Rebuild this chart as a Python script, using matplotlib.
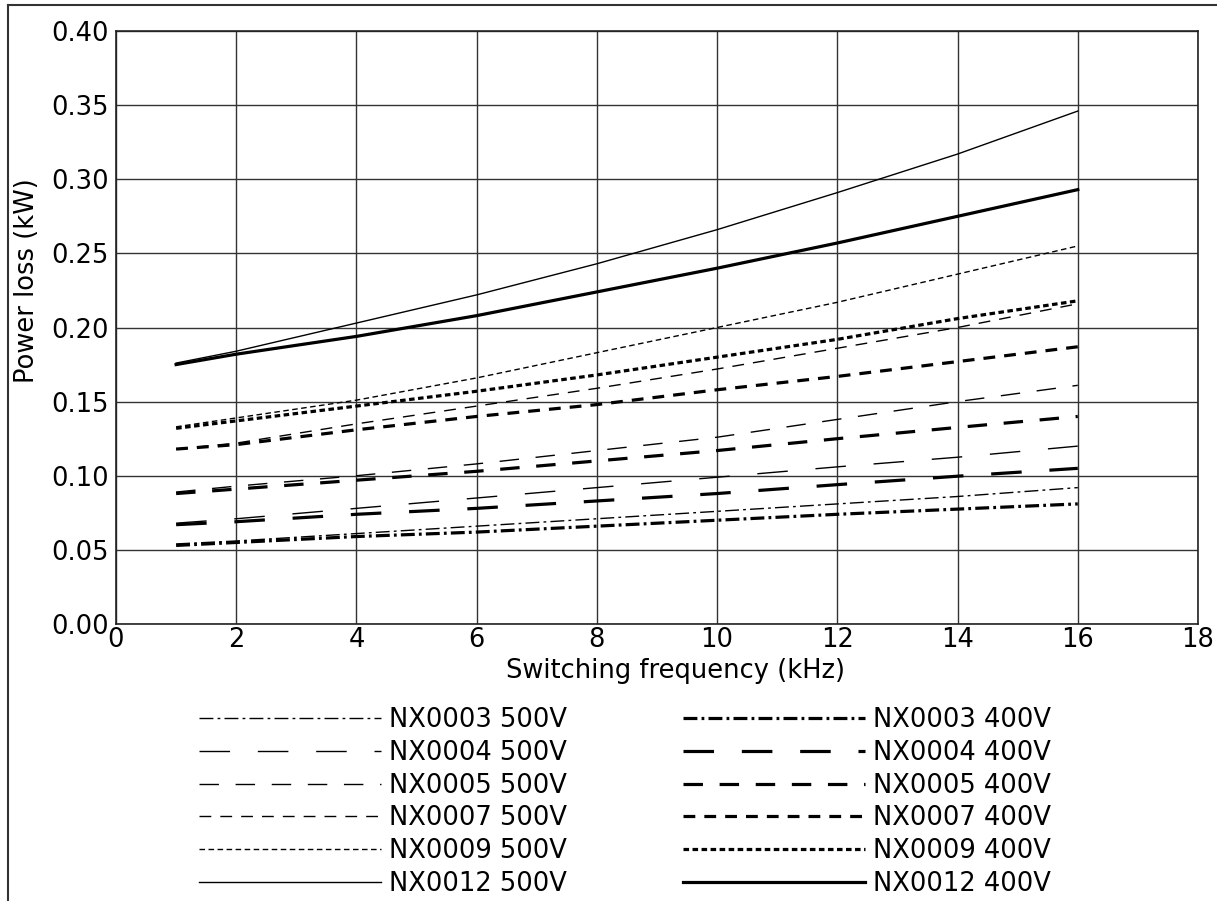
import matplotlib
matplotlib.use("Agg")
import matplotlib.pyplot as plt
from matplotlib.lines import Line2D

plt.rcParams['font.family'] = ['DejaVu Sans']
plt.rcParams['lines.scale_dashes'] = False

freq = [1, 2, 4, 6, 8, 10, 12, 14, 16]

nx0003_500 = [0.054, 0.056, 0.061, 0.066, 0.071, 0.076, 0.081, 0.086, 0.092]
nx0004_500 = [0.068, 0.071, 0.078, 0.085, 0.092, 0.099, 0.106, 0.1125, 0.120]
nx0005_500 = [0.089, 0.093, 0.100, 0.108, 0.117, 0.126, 0.138, 0.150, 0.161]
nx0007_500 = [0.118, 0.122, 0.135, 0.147, 0.159, 0.172, 0.186, 0.200, 0.216]
nx0009_500 = [0.133, 0.139, 0.151, 0.166, 0.183, 0.200, 0.217, 0.236, 0.255]
nx0012_500 = [0.176, 0.184, 0.203, 0.222, 0.243, 0.266, 0.291, 0.317, 0.346]

nx0003_400 = [0.053, 0.055, 0.059, 0.062, 0.066, 0.070, 0.074, 0.0775, 0.081]
nx0004_400 = [0.067, 0.069, 0.074, 0.078, 0.083, 0.088, 0.094, 0.0997, 0.105]
nx0005_400 = [0.088, 0.091, 0.097, 0.103, 0.110, 0.117, 0.125, 0.1326, 0.140]
nx0007_400 = [0.118, 0.121, 0.131, 0.140, 0.148, 0.158, 0.167, 0.177, 0.187]
nx0009_400 = [0.132, 0.137, 0.147, 0.157, 0.168, 0.180, 0.192, 0.206, 0.218]
nx0012_400 = [0.175, 0.182, 0.194, 0.208, 0.224, 0.240, 0.257, 0.275, 0.293]

labels_500 = ["NX0003 500V", "NX0004 500V", "NX0005 500V",
              "NX0007 500V", "NX0009 500V", "NX0012 500V"]
labels_400 = ["NX0003 400V", "NX0004 400V", "NX0005 400V",
              "NX0007 400V", "NX0009 400V", "NX0012 400V"]

series_500 = [nx0003_500, nx0004_500, nx0005_500, nx0007_500, nx0009_500, nx0012_500]
series_400 = [nx0003_400, nx0004_400, nx0005_400, nx0007_400, nx0009_400, nx0012_400]

# dash patterns in points (one per model)
styles = [(0, (10, 3, 2, 3)),
          (0, (22, 20)),
          (0, (14, 12)),
          (0, (8.5, 6.5)),
          (0, (4, 2.5)),
          '-']

FS = 18.5

fig = plt.figure(figsize=(12.17, 9.01), dpi=100)
ax = fig.add_axes([116/1217, 1 - 624/901, (1198-116)/1217, (624-31)/901])

handles = []
for ys, lab, ls in zip(series_500, labels_500, styles):
    h, = ax.plot(freq, ys, color='black', lw=1.0, linestyle=ls, label=lab)
    handles.append(h)
for ys, lab, ls in zip(series_400, labels_400, styles):
    h, = ax.plot(freq, ys, color='black', lw=2.3, linestyle=ls, label=lab)
    handles.append(h)

ax.set_xlim(0, 18)
ax.set_ylim(0, 0.40)
ax.set_xticks(range(0, 19, 2))
ax.set_yticks([i * 0.05 for i in range(9)])
ax.set_yticklabels(["%.2f" % (i * 0.05) for i in range(9)])
ax.grid(True, color='#333333', lw=1.0)
ax.tick_params(axis='both', length=0, labelsize=FS)
ax.tick_params(axis='y', pad=5)
ax.tick_params(axis='x', pad=2.5)
for sp in ax.spines.values():
    sp.set_color('#222222')
    sp.set_linewidth(1.2)

ax.set_xlabel("Switching frequency (kHz)", fontsize=FS)
ax.set_ylabel("Power loss (kW)", fontsize=FS)
ax.xaxis.set_label_coords((675-116)/1082, (624-671)/593)
ax.xaxis.label.set_va('center')
ax.yaxis.set_label_coords((27-116)/1082, (624-281)/593)
ax.yaxis.label.set_va('center')

fig.legend(handles=handles, ncol=2, loc='upper left',
           bbox_to_anchor=(199/1217, 1 - 707/901), frameon=False,
           fontsize=FS, handlelength=7.1, handletextpad=0.3,
           columnspacing=4.5, labelspacing=0.265, borderpad=0, borderaxespad=0)

# figure frame (top and left edges visible)
fig.add_artist(Line2D([8/1217, 1.0], [1 - 5/901, 1 - 5/901], color='#333333', lw=1.5))
fig.add_artist(Line2D([8/1217, 8/1217], [0, 1 - 5/901], color='#333333', lw=1.5))

fig.savefig("out.png", dpi=100)
